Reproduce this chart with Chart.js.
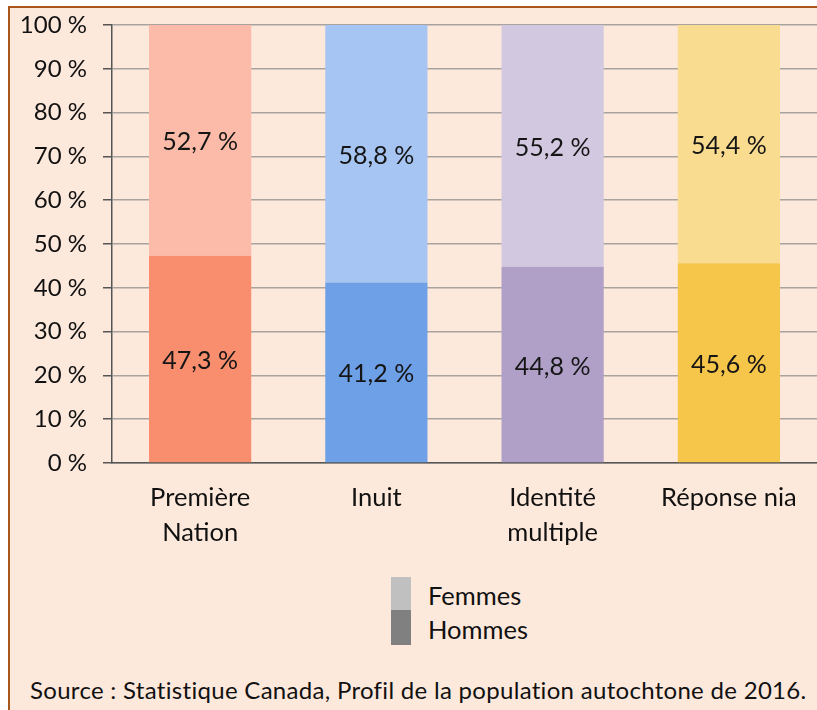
<!DOCTYPE html>
<html>
<head>
<meta charset="utf-8">
<script src="https://cdn.jsdelivr.net/npm/chart.js@4"></script>
<style>
  html, body { margin: 0; padding: 0; background: #fff; overflow: hidden; width: 817px; height: 710px; }
  #frame { position: absolute; left: 8px; top: 6px; width: 807px; height: 702px;
           background: #fde9dc; border-left: 2px solid #a9561c; border-top: 2px solid #a9561c; }
  #wrap { position: absolute; left: 0; top: 0; width: 817px; height: 560px; }
  .legend { position: absolute; left: 391px; font: 25.5px Lato, sans-serif; color: #111; }
  .legend .box { position: absolute; left: 0; width: 20px; }
  .legend .lbl { position: absolute; left: 37px; white-space: nowrap; }
  #source { position: absolute; left: 30px; top: 675px; font: 24px Lato, sans-serif; letter-spacing: 0.3px; color: #111; white-space: nowrap; }
</style>
</head>
<body>
<div id="frame"></div>
<div id="wrap"><canvas id="myChart" width="817" height="560"></canvas></div>
<div class="legend" style="top:577px">
  <div class="box" style="top:0;height:33px;background:#c0c0c0"></div>
  <div class="box" style="top:33px;height:35px;background:#808080"></div>
  <div class="lbl" style="top:3px">Femmes</div>
  <div class="lbl" style="top:37px">Hommes</div>
</div>
<div id="source">Source : Statistique Canada, Profil de la population autochtone de 2016.</div>
<script>
let categories = [["Première", "Nation"], "Inuit", ["Identité", "multiple"], "Réponse nia"];
let hommes = [47.3, 41.2, 44.8, 45.6];
let femmes = [52.7, 58.8, 55.2, 54.4];
let hommesColors = ['#f88e6e', '#6ea0e8', '#b0a0c8', '#f6c64a'];
let femmesColors = ['#fbbba8', '#a7c5f2', '#d2c9e0', '#fadc90'];
let yTicks = [0, 10, 20, 30, 40, 50, 60, 70, 80, 90, 100];

let fmt = v => v.toFixed(1).replace('.', ',') + ' %';

// draws the value in the middle of each segment
let segmentLabels = {
  id: 'segmentLabels',
  afterDatasetsDraw(chart) {
    let ctx = chart.ctx;
    ctx.save();
    ctx.font = '25px Lato, sans-serif';
    ctx.fillStyle = '#151515';
    ctx.textAlign = 'center';
    ctx.textBaseline = 'middle';
    chart.data.datasets.forEach((ds, i) => {
      chart.getDatasetMeta(i).data.forEach((bar, j) => {
        let mid = (bar.y + bar.base) / 2;
        ctx.fillText(fmt(ds.data[j]), bar.x, mid + 2);
      });
    });
    ctx.restore();
  }
};

let ctx = document.getElementById('myChart').getContext('2d');
let chart = new Chart(ctx, {
  type: 'bar',
  data: {
    labels: categories,
    datasets: [
      { label: 'Hommes', data: hommes, backgroundColor: hommesColors, barPercentage: 0.58, categoryPercentage: 1 },
      { label: 'Femmes', data: femmes, backgroundColor: femmesColors, barPercentage: 0.58, categoryPercentage: 1 }
    ]
  },
  options: {
    responsive: false,
    animation: false,
    layout: { padding: { top: 25, right: 0, left: 0, bottom: 0 } },
    plugins: { legend: { display: false }, tooltip: { enabled: false } },
    scales: {
      x: {
        stacked: true,
        grid: { display: false, drawTicks: false },
        border: { color: '#555', width: 1.5 },
        ticks: { color: '#111', font: { family: 'Lato', size: 25.5, lineHeight: 1.37 }, padding: 17, maxRotation: 0 },
        afterFit: s => { s.height = 97; s.paddingLeft = 0; s.paddingRight = 0; }
      },
      y: {
        stacked: true,
        min: 0, max: 100,
        afterBuildTicks: s => { s.ticks = yTicks.map(v => ({ value: v })); },
        grid: { color: '#a8a39f', lineWidth: 1.5, tickColor: '#555', tickLength: 9 },
        border: { color: '#555', width: 1.5 },
        ticks: { color: '#111', font: { family: 'Lato', size: 24 }, padding: 16, callback: v => v + ' %' },
        afterFit: s => { s.width = 112; s.paddingTop = 0; s.paddingBottom = 0; }
      }
    }
  },
  plugins: [segmentLabels]
});
</script>
</body>
</html>
